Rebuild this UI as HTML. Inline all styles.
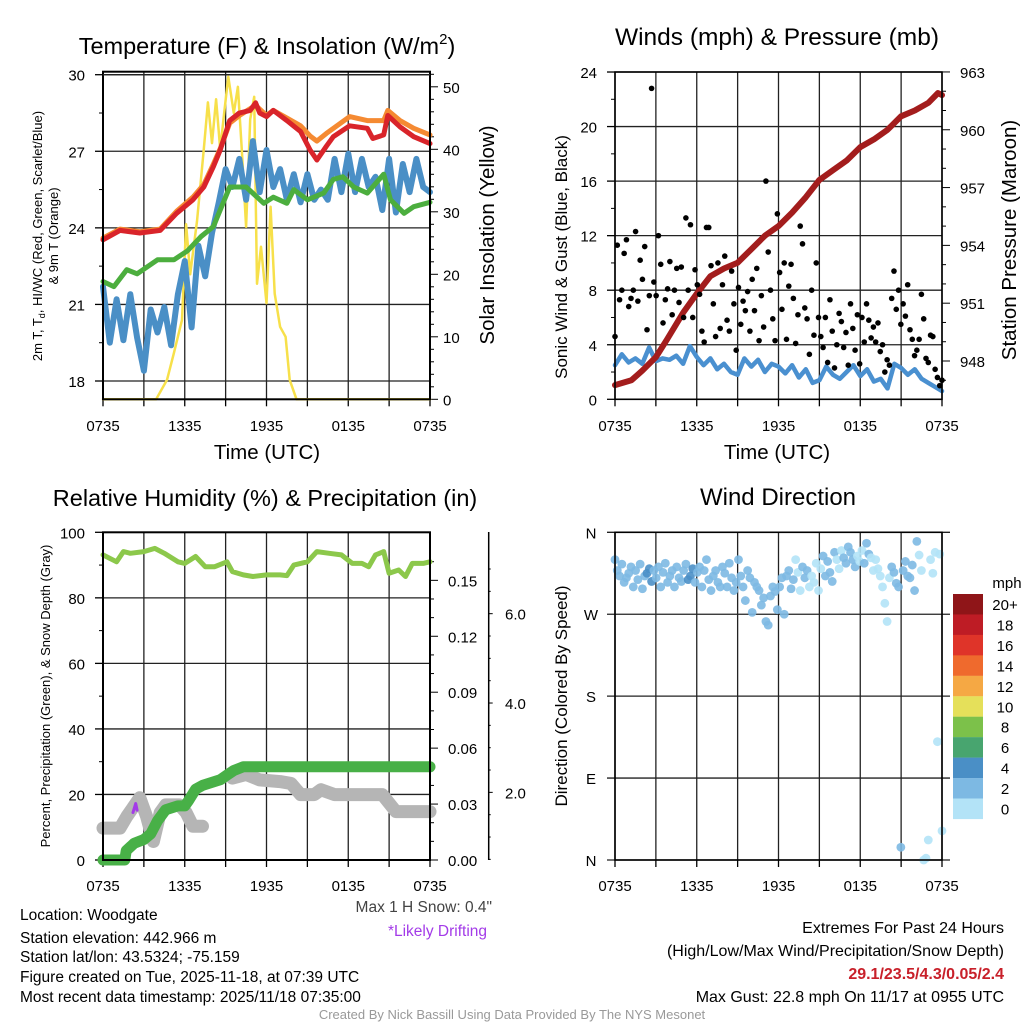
<!DOCTYPE html>
<html><head><meta charset="utf-8"><style>
html,body{margin:0;padding:0;background:#fff;}
svg{display:block;font-family:"Liberation Sans",Arial,sans-serif;}
</style></head><body>
<svg id="chart" width="1024" height="1024" viewBox="0 0 1024 1024" xmlns="http://www.w3.org/2000/svg"></svg>
<script>
// ---------- DATA ----------
const xTickLabels = ["0735","1335","1935","0135","0735"];
const redH = [0,1.25,2.7,4.2,5.4,6.6,7.4,8.1,8.6,9.3,10.0,10.8,11.2,11.5,12,12.5,13.5,14.5,15.2,15.7,16.4,16.9,18.1,19.4,19.8,20.6,20.9,21.8,22.8,24];
const redT = [23.53,23.9,23.8,23.9,24.57,25.1,25.6,26.4,27.05,28.2,28.5,28.6,28.9,28.5,28.36,28.6,28.2,27.77,27.05,26.66,27.2,27.57,28.0,27.9,27.5,27.64,28.4,27.96,27.57,27.3];
const orangeH = [0,1.25,2.7,4.2,5.4,6.6,7.4,8.1,8.6,9.3,10.0,11.2,12,12.5,13.5,14.5,15.2,15.7,16.4,18.1,19.4,20.6,20.9,21.8,22.8,24];
const orangeT = [23.6,23.95,23.85,23.95,24.65,25.2,25.7,26.5,27.1,28.1,28.4,28.8,28.4,28.6,28.3,28.0,27.6,27.4,27.7,28.36,28.2,28.2,28.6,28.2,27.9,27.64];
const greenH = [0,0.8,1.75,2.5,4.0,5.2,6.2,7.2,8.1,8.6,9.3,10.5,11.8,12.5,13.5,14.0,15.0,16.2,16.9,17.6,18.4,19.4,20.6,21.1,22.1,22.8,24];
const greenT = [21.9,21.7,22.36,22.2,22.75,22.75,23.1,23.66,24.05,24.7,25.6,25.6,24.96,25.2,24.96,25.5,25.1,25.36,25.9,26.0,25.6,25.36,26.1,25.1,24.57,24.83,25.0];
const blueT = [21.7,19.5,21.2,19.6,21.4,19.7,18.4,20.8,19.9,20.9,19.4,21.4,22.7,20.1,23.3,22.1,23.8,25.0,26.3,25.6,26.7,25.1,27.4,25.4,27.05,25.6,26.3,25.1,26.1,25.0,26.1,25.1,25.5,25.1,26.7,25.4,26.9,25.4,26.7,25.6,26.0,24.7,26.7,24.6,26.5,25.4,26.7,25.6,25.4];
const solH = [0,3.9,4.7,5.2,5.8,6.1,6.4,6.9,7.4,7.7,8.0,8.3,8.6,8.9,9.2,9.6,9.9,10.2,10.5,10.8,11.1,11.3,11.6,12.0,12.3,12.6,13.0,13.4,13.7,14.2,24];
const solV = [0,0,3.1,7.4,12.7,28,20,28.5,40,47.5,41,48,40,46,51.6,45.8,50,39.4,27.6,44.8,48.4,18.5,24.4,15.4,30.8,16.9,11.6,10,3.1,0,0];
const windV = [2.5,3.3,2.7,3.0,2.6,3.8,2.8,3.0,2.9,3.2,2.6,3.9,3.1,2.5,3.0,2.2,2.6,2.0,1.8,3.0,2.4,2.9,2.0,2.6,2.4,1.9,2.5,1.6,2.2,1.2,1.4,2.4,1.8,1.5,2.0,2.5,1.7,2.2,1.3,1.5,0.8,2.6,2.3,1.8,2.2,1.5,1.2,0.9,0.6];
const gustV = [4.6,11.3,7.3,8.0,10.7,11.7, 6.8,7.4,8.0,12.3,7.2,10.2, 8.8,11.2,5.1,7.6,22.8,8.6, 7.6,12.0,9.9,5.6,7.3,8.1,
 10.1,6.2,8.0,9.6,7.1,9.7, 6.0,13.3,8.0,12.8,6.0,9.5, 8.4,7.7,5.0,4.2,12.6,12.6, 9.8,7.0,4.6,10.0,5.2,8.4,
 10.5,5.8,5.0,9.4,7.0,3.6, 8.2,5.5,7.2,6.5,7.9,5.0, 8.8,6.5,9.6,4.3,7.6,5.3, 16.0,10.8,8.0,5.9,4.3,13.6,
 9.3,6.6,10.0,4.4,8.3,9.9, 7.4,4.1,6.2,12.7,11.4,6.7, 5.9,3.3,8.0,4.7,10.0,6.0, 4.6,3.8,6.0,2.7,7.3,5.0,
 2.3,4.0,6.3,5.7,3.8,4.9, 2.5,7.0,5.2,3.6,6.2,2.6, 6.0,4.2,7.0,5.8,4.5,5.3, 4.2,5.6,3.5,4.0,2.0,2.9,
 2.5,7.4,9.4,6.6,8.0,5.5, 7.0,6.1,8.4,5.1,4.4,3.2, 3.6,4.4,7.7,5.9,3.0,2.7, 4.7,4.6,2.2,1.6,1.0,1.4];
const presH = [0,1.2,2,3,3.8,5,6,7,8,9,10,11,12,13,14,15,16,17,18,19,20,21,22,23,23.7,24];
const presV = [946.75,947.0,947.5,948.2,949.1,950.5,951.5,952.4,952.8,953.1,953.8,954.5,955.0,955.7,956.5,957.4,957.9,958.4,959.1,959.5,960.0,960.7,961.0,961.4,961.9,961.8];
const rhH = [0,1,1.5,2,3,3.8,4.5,5.5,6,6.8,7.5,8.2,9.1,9.5,10.3,11,12,13,13.5,14,15,15.7,16.6,17.5,18.3,19,19.5,20,20.6,21,21.7,22.2,22.7,23.5,24];
const rhV = [93.1,91,94.1,93.6,94.1,95.1,93.6,91,90.5,92.6,89.5,89.5,91,88,87,86.5,87,87,86.8,90,91,94.1,93.6,93.1,90.5,90.5,89.5,93.1,94.1,87.5,88.5,86.5,90.5,90.5,91];
const prH = [0,1.6,1.7,2.3,3.0,3.5,4.0,4.6,5.5,6.0,6.3,6.8,7.3,8.6,9.2,9.6,10.3,24];
const prV = [0,0,0.005,0.009,0.011,0.014,0.021,0.027,0.029,0.029,0.032,0.038,0.040,0.043,0.046,0.048,0.050,0.050];
const snH = [0,1.25,1.75,2.7,3.2,3.7,4.2,4.6,5.6,6.1,6.6,7.3,null,9.5,10.5,11.5,13,13.8,14.5,15.5,16,17,20.5,21.5,24];
const snV = [1.2,1.2,1.46,1.88,1.46,0.9,1.55,1.72,1.72,1.55,1.24,1.24,null,2.32,2.4,2.28,2.24,2.2,1.95,1.95,2.06,1.95,1.95,1.57,1.57];
const driftH = [2.2,2.4,2.5];
const driftV = [1.55,1.75,1.6];
const dirV = [330,318,312,325,305,310, 315,322,300,318,308,325, 298,312,315,320,306,318, 310,322,300,316,326,305,
 312,318,300,322,310,306, 318,325,308,312,320,305, 316,322,300,318,330,308, 296,312,318,305,300,322,
 315,300,326,310,296,305, 330,312,300,285,318,310, 272,305,300,296,280,288, 262,258,290,300,295,275,
 300,310,270,312,318,298, 308,330,316,296,322,310, 318,300,312,305,326,296, 320,334,312,328,316,306,
 338,330,320,340,332,326, 344,338,330,322,334,328, 340,326,348,336,332,318, 330,320,312,300,282,262,
 310,322,316,304,300,14, 318,328,312,310,324,296, 350,335,318,0,2,22, 330,315,338,130,336,32];
const cbLabels = ["20+","18","16","14","12","10","8","6","4","2","0"];
const cbColors = ["#8f1518","#be1c25","#df3429","#ef6a2d","#f5a844","#e5e05a","#7cc14a","#48a56f","#4a8fc6","#7db9e3","#b3e3f7"];

// ---------- HELPERS ----------
const NS="http://www.w3.org/2000/svg";
const svg=document.getElementById('chart');
function mk(tag, attrs, name, inter, parent){
  const e=document.createElementNS(NS,tag);
  for(const k in attrs) e.setAttribute(k,attrs[k]);
  
  
  (parent||svg).appendChild(e);
  return e;
}
function txt(x,y,s,size,anchor,name,extra){
  const a={x:x,y:y,'font-size':size,'text-anchor':anchor||'middle',fill:'#000'};
  if(extra) for(const k in extra) a[k]=extra[k];
  const t=mk('text',a,name,false);
  t.textContent=s; return t;
}
function ln(x1,y1,x2,y2,c,w,name){ return mk('line',{x1:x1,y1:y1,x2:x2,y2:y2,stroke:c,'stroke-width':w},name,false); }
function poly(xs,ys,c,w,name,fx,fy){
  let d='',pen=false;
  for(let i=0;i<xs.length;i++){
    if(xs[i]===null||ys[i]===null){pen=false;continue;}
    d+=(pen?'L':'M')+fx(xs[i]).toFixed(1)+','+fy(ys[i]).toFixed(1);
    pen=true;
  }
  return mk('path',{d:d,fill:'none',stroke:c,'stroke-width':w,'stroke-linejoin':'round','stroke-linecap':'round'},name,false);
}
function timeAxis(x0,x1,yb,yt,labY,pfx){
  const sx=(x1-x0)/24;
  for(let i=0;i<=8;i++){
    const x=x0+i*3*sx;
    ln(x,yt,x,yb,'#222',1.3,pfx+'-vgrid');
    ln(x,yb,x,yb+7,'#000',1.3,pfx+'-xtick');
  }
  xTickLabels.forEach((s,i)=>txt(x0+i*6*sx,labY,s,15,'middle',pfx+'-xtick-label'));
}

// ---------- PANEL 1: Temperature ----------
(function(){
  const x0=103,x1=430,yb=399.3,yt=71.7;
  const X=h=>x0+h*(x1-x0)/24;
  const YT=t=>381-(t-18)*25.525;
  const YS=v=>399.3-v*6.25;
  const tt=txt(267,54,'Temperature (F) & Insolation (W/m',23.5,'middle','temp-title');
  const sup=document.createElementNS(NS,'tspan');sup.setAttribute('font-size','15');sup.setAttribute('dy','-10');sup.textContent='2';tt.appendChild(sup);
  const cl=document.createElementNS(NS,'tspan');cl.setAttribute('dy','10');cl.textContent=')';tt.appendChild(cl);
  [18,21,24,27,30].forEach(t=>{ln(x0,YT(t),x1,YT(t),'#222',1.3,'temp-hgrid');ln(x0-8,YT(t),x0,YT(t),'#000',1.3,'temp-ytick');txt(85,YT(t)+6,String(t),15,'end','temp-ytick-label');});
  for(let t=19.5;t<30;t+=3) ln(x0-4,YT(t),x0,YT(t),'#000',1,'temp-minor-tick');
  for(let v=0;v<=52;v+=2) ln(x1,YS(v),x1+(v%10===0?8:4),YS(v),'#000',1,'sol-ytick');
  [0,10,20,30,40,50].forEach(v=>txt(443,YS(v)+6,String(v),15,'start','sol-ytick-label'));
  timeAxis(x0,x1,yb,yt,431,'temp');
  poly(solH,solV,'#f7e04a',2.5,'insolation-line',X,YS);
  poly(blueT.map((v,i)=>i*0.5),blueT,'#4a8fc6',6,'hiwc-line',X,YT);
  poly(greenH,greenT,'#4cae3e',5,'dewpoint-line',X,YT);
  poly(orangeH,orangeT,'#f58a32',5,'9m-temp-line',X,YT);
  poly(redH,redT,'#d9242a',5,'2m-temp-line',X,YT);
  mk('rect',{x:x0,y:yt,width:x1-x0,height:yb-yt,fill:'none',stroke:'#000','stroke-width':2},'temp-frame',false);
  ln(x0,74.7,x1,74.7,'#222',1.3,'temp-30-line');
  txt(267,459,'Time (UTC)',20.5,'middle','temp-x-title');
  const g1=txt(0,0,'2m T, T',13,'middle','temp-y-title',{transform:'translate(42,236) rotate(-90)'});
  const s=document.createElementNS(NS,'tspan');s.setAttribute('font-size','9');s.setAttribute('dy','3');s.textContent='d';g1.appendChild(s);
  const s2=document.createElementNS(NS,'tspan');s2.setAttribute('dy','-3');s2.textContent=', HI/WC (Red, Green, Scarlet/Blue)';g1.appendChild(s2);
  txt(0,0,'& 9m T (Orange)',13,'middle','temp-y-title-2',{transform:'translate(58,236) rotate(-90)'});
  txt(0,0,'Solar Insolation (Yellow)',20.5,'middle','sol-y-title',{transform:'translate(494,235) rotate(-90)'});
})();

// ---------- PANEL 2: Winds ----------
(function(){
  const x0=615,x1=942,yb=399.3,yt=72;
  const X=h=>x0+h*(x1-x0)/24;
  const YW=v=>399.3-v*13.637;
  const YP=p=>361-(p-948)*19.27;
  txt(777,45,'Winds (mph) & Pressure (mb)',24.5,'middle','winds-title');
  for(let v=0;v<=24;v+=4){ln(x0,YW(v),x1,YW(v),'#222',1.3,'wind-hgrid');ln(x0-8,YW(v),x0,YW(v),'#000',1.3,'wind-ytick');txt(597,YW(v)+6,String(v),15,'end','wind-ytick-label');}
  for(let v=2;v<24;v+=4) ln(x0-4,YW(v),x0,YW(v),'#000',1,'wind-minor-tick');
  for(let p=947;p<=963;p++) ln(x1,YP(p),x1+(p%3===0?8:4),YP(p),'#000',1,'pres-ytick');
  [948,951,954,957,960,963].forEach(p=>txt(960,YP(p)+6,String(p),15,'start','pres-ytick-label'));
  timeAxis(x0,x1,yb,yt,431,'wind');
  poly(windV.map((v,i)=>i*0.5),windV,'#4a90d0',4.5,'sonic-wind-line',X,YW);
  poly(presH,presV,'#a31d1d',6,'pressure-line',X,YP);
  const n=gustV.length;
  gustV.forEach((v,i)=>{mk('circle',{cx:X(i*24/(n-1)),cy:YW(v),r:2.8,fill:'#000'},'gust-dot',false);});
  mk('rect',{x:x0,y:yt,width:x1-x0,height:yb-yt,fill:'none',stroke:'#000','stroke-width':1.6},'wind-frame',false);
  txt(777,459,'Time (UTC)',20.5,'middle','wind-x-title');
  txt(0,0,'Sonic Wind & Gust (Blue, Black)',17,'middle','wind-y-title',{transform:'translate(567,257) rotate(-90)'});
  txt(0,0,'Station Pressure (Maroon)',20.5,'middle','pres-y-title',{transform:'translate(1016,240) rotate(-90)'});
})();

// ---------- PANEL 3: RH / Precip ----------
(function(){
  const x0=103,x1=430,yb=860,yt=532.3;
  const X=h=>x0+h*(x1-x0)/24;
  const YR=v=>860-v*3.277;
  const YPr=v=>860-v*1864.4;
  const YSn=v=>881.7-v*44.67;
  txt(265,506,'Relative Humidity (%) & Precipitation (in)',23.5,'middle','rh-title');
  for(let v=0;v<=100;v+=20){ln(x0,YR(v),x1,YR(v),'#222',1.3,'rh-hgrid');ln(x0-8,YR(v),x0,YR(v),'#000',1.3,'rh-ytick');txt(85,YR(v)+6,String(v),15,'end','rh-ytick-label');}
  for(let v=10;v<100;v+=20) ln(x0-4,YR(v),x0,YR(v),'#000',1,'rh-minor-tick');
  for(let i=0;i<=16;i++){const v=i*0.01;ln(x1,YPr(v),x1+(i%3===0?8:4),YPr(v),'#000',1,'precip-ytick');}
  ['0.00','0.03','0.06','0.09','0.12','0.15'].forEach((s,i)=>txt(448,YPr(i*0.03)+6,s,15,'start','precip-ytick-label'));
  ln(488.7,532,488.7,860,'#000',1.5,'snow-axis');
  for(let v=0.5;v<=7.3;v+=0.5){ if(YSn(v)>=532&&YSn(v)<=860) ln(488.7,YSn(v),488.7+(v%2===0?4:2),YSn(v),'#000',1,'snow-ytick');}
  [2,4,6].forEach(v=>txt(505,YSn(v)+6,v.toFixed(1),15,'start','snow-ytick-label'));
  timeAxis(x0,x1,yb,yt,891,'rh');
  poly(rhH,rhV,'#8cc84b',5,'rh-line',X,YR);
  poly(snH,snV,'#b5b5b5',13,'snow-depth-line',X,YSn);
  poly(prH,prV,'#48b047',11,'precip-line',X,YPr);
  poly(driftH,driftV,'#a33be8',3,'drift-mark',X,YSn);
  mk('rect',{x:x0,y:yt,width:x1-x0,height:yb-yt,fill:'none',stroke:'#000','stroke-width':2},'rh-frame',false);
  txt(0,0,'Percent, Precipitation (Green), & Snow Depth (Gray)',13,'middle','rh-y-title',{transform:'translate(50,696) rotate(-90)'});
})();

// ---------- PANEL 4: Wind Direction ----------
(function(){
  const x0=615,x1=942,yb=860,yt=532.3;
  const X=h=>x0+h*(x1-x0)/24;
  const YD=d=>860-d*(327.7/360);
  txt(778,505,'Wind Direction',24,'middle','dir-title');
  [['N',360],['W',270],['S',180],['E',90],['N',0]].forEach(a=>{ln(x0-8,YD(a[1]),x1+8,YD(a[1]),'#222',1.3,'dir-hgrid');txt(591,YD(a[1])+6,a[0],15,'middle','dir-ytick-label');});
  timeAxis(x0,x1,yb,yt,891,'dir');
  const n=dirV.length;
  dirV.forEach((d,i)=>{
    const h=i*24/(n-1);
    const sp=windV[Math.min(windV.length-1,Math.round(h*2))];
    const c=sp>=3.5?'#4a8fc6':(sp>=1.8?'#7db9e3':'#b3e3f7');
    mk('circle',{cx:X(h),cy:YD(d),r:4.4,fill:c,'fill-opacity':0.9},'direction-dot',false);
  });
  mk('rect',{x:x0,y:yt,width:x1-x0,height:yb-yt,fill:'none',stroke:'#000','stroke-width':1.6},'dir-frame',false);
  txt(0,0,'Direction (Colored By Speed)',17,'middle','dir-y-title',{transform:'translate(567,696) rotate(-90)'});
  txt(1007,588,'mph',15,'middle','colorbar-title');
  cbColors.forEach((c,i)=>{mk('rect',{x:953,y:594+i*20.45,width:30,height:20.6,fill:c},'colorbar-swatch',false);});
  cbLabels.forEach((s,i)=>txt(1005,610+i*20.45,s,15,'middle','colorbar-label'));
})();

// ---------- FOOTER TEXT ----------
['Location: Woodgate','Station elevation: 442.966 m','Station lat/lon: 43.5324; -75.159','Figure created on Tue, 2025-11-18, at 07:39 UTC','Most recent data timestamp: 2025/11/18 07:35:00'].forEach((s,i)=>{
  txt(20,[920,943,962,982,1002][i],s,15.5,'start','station-info-line');
});
txt(492,912,'Max 1 H Snow: 0.4"',15.5,'end','max-snow-note',{fill:'#444'});
txt(487,936,'*Likely Drifting',15.5,'end','drifting-note',{fill:'#a33be8'});
txt(1004,933,'Extremes For Past 24 Hours',16,'end','extremes-title');
txt(1004,956,'(High/Low/Max Wind/Precipitation/Snow Depth)',16,'end','extremes-subtitle');
txt(1004,979,'29.1/23.5/4.3/0.05/2.4',16,'end','extremes-values',{fill:'#c8202a','font-weight':'bold'});
txt(1004,1002,'Max Gust: 22.8 mph On 11/17 at 0955 UTC',16,'end','max-gust-note');
txt(512,1019,'Created By Nick Bassill Using Data Provided By The NYS Mesonet',13,'middle','credit-line',{fill:'#999'});
</script>
</body></html>
